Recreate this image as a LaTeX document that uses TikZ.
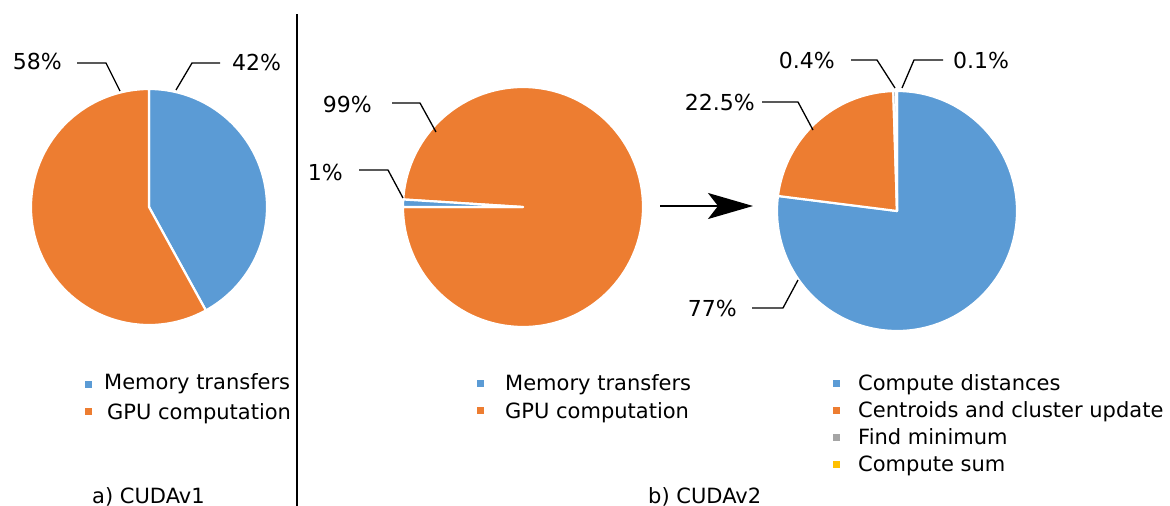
\documentclass[tikz,border=0pt]{standalone}
\usepackage{fontspec}
\setmainfont{DejaVu Sans}
\usetikzlibrary{arrows.meta}

\definecolor{cblue}{HTML}{5B9BD5}
\definecolor{corange}{HTML}{ED7D31}
\definecolor{cgray}{HTML}{A5A5A5}
\definecolor{cyellow}{HTML}{FFC000}

\tikzset{
  slice/.style={draw=white, line width=2.2pt, line join=round},
  pct/.style={font=\fontsize{22}{26}\selectfont, inner sep=0pt},
  leader/.style={draw=black, line width=1.3pt},
  legtext/.style={font=\fontsize{21}{25}\selectfont, inner sep=0pt, anchor=base west},
  legmark/.style={minimum size=7pt, inner sep=0pt, outer sep=0pt},
  divider/.style={draw=black, line width=2pt},
  flow/.style={draw=black, line width=2pt, -{Stealth[length=45pt, width=26pt, inset=10pt]}},
}

% one pie slice: colour, start angle, end angle, radius
\newcommand\pieslice[4]{%
  \fill[#1, slice] (0,0) -- (#2:#4) arc[start angle=#2, end angle=#3, radius=#4] -- cycle;}

\begin{document}
\begin{tikzpicture}[x=1pt, y=-1pt]
\fill[white] (0,0) rectangle (1170,506);
\useasboundingbox (0,0) rectangle (1170,506);

% ---------- a) CUDAv1 ----------
\begin{scope}[shift={(149,207)}, yscale=-1]
  \pieslice{cblue}{90}{-61.2}{118}
  \pieslice{corange}{-61.2}{-270}{118}
\end{scope}

\node[pct, anchor=east] (p58) at (62,61) {58\%};
\coordinate (p58s) at (77,63);
\coordinate (p58k) at (106,63);
\coordinate (p58e) at (120,91);
\draw[leader] (p58s) -- (p58k) -- (p58e);

\node[pct, anchor=west] (p42) at (232,62) {42\%};
\coordinate (p42s) at (220,63);
\coordinate (p42k) at (192,63);
\coordinate (p42e) at (176,90);
\draw[leader] (p42s) -- (p42k) -- (p42e);

\node[legmark, fill=cblue] (ma1) at (88,384) {};
\node[legtext] (ta1) at (104,389) {Memory transfers};
\node[legmark, fill=corange] (ma2) at (88,411) {};
\node[legtext] (ta2) at (107,419) {GPU computation};

\node[legtext] (capa) at (92,503) {a) CUDAv1};

% divider between the two parts
\coordinate (divtop) at (297,14);
\coordinate (divbot) at (297,506);
\draw[divider] (divtop) -- (divbot);

% ---------- b) CUDAv2, overall split ----------
\begin{scope}[shift={(523,207)}, yscale=-1]
  \pieslice{corange}{176.4}{-180}{120}
  \pieslice{cblue}{180}{176.4}{120}
\end{scope}

\node[pct, anchor=east] (p99) at (372,104) {99\%};
\coordinate (p99s) at (392,103);
\coordinate (p99k) at (420,103);
\coordinate (p99e) at (436,132);
\draw[leader] (p99s) -- (p99k) -- (p99e);

\node[pct, anchor=east] (p1) at (343,172) {1\%};
\coordinate (p1s) at (359,170);
\coordinate (p1k) at (388,170);
\coordinate (p1e) at (403,198);
\draw[leader] (p1s) -- (p1k) -- (p1e);

% arrow to the breakdown of the GPU computation
\coordinate (arrs) at (660,206);
\coordinate (arre) at (753,206);
\draw[flow] (arrs) -- (arre);

% ---------- b) CUDAv2, GPU computation breakdown ----------
\begin{scope}[shift={(897,211)}, yscale=-1]
  \pieslice{cblue}{90}{-187.2}{120}
  \pieslice{corange}{172.8}{91.8}{120}
  \pieslice{cgray}{91.8}{90.36}{120}
  \pieslice{cyellow}{90.36}{90}{120}
\end{scope}

\node[pct, anchor=east] (p04) at (835,60) {0.4\%};
\coordinate (p04s) at (851,60);
\coordinate (p04k) at (877,60);
\coordinate (p04e) at (895,88);
\draw[leader] (p04s) -- (p04k) -- (p04e);

\node[pct, anchor=west] (p01) at (953,60) {0.1\%};
\coordinate (p01s) at (943,60);
\coordinate (p01k) at (914,60);
\coordinate (p01e) at (902,88);
\draw[leader] (p01s) -- (p01k) -- (p01e);

\node[pct, anchor=east] (p225) at (755,102) {22.5\%};
\coordinate (p225s) at (762,102);
\coordinate (p225k) at (798,102);
\coordinate (p225e) at (813,130);
\draw[leader] (p225s) -- (p225k) -- (p225e);

\node[pct, anchor=east] (p77) at (737,308) {77\%};
\coordinate (p77s) at (752,308);
\coordinate (p77k) at (783,308);
\coordinate (p77e) at (798,280);
\draw[leader] (p77s) -- (p77k) -- (p77e);

% legends
\node[legmark, fill=cblue] (mb1) at (480,383) {};
\node[legtext] (tb1) at (505,390) {Memory transfers};
\node[legmark, fill=corange] (mb2) at (480,410) {};
\node[legtext] (tb2) at (505,418) {GPU computation};

\node[legmark, fill=cblue] (mc1) at (836,383) {};
\node[legtext] (tc1) at (858,390) {Compute distances};
\node[legmark, fill=corange] (mc2) at (836,410) {};
\node[legtext] (tc2) at (858,417) {Centroids and cluster update};
\node[legmark, fill=cgray] (mc3) at (836,437) {};
\node[legtext] (tc3) at (858,444) {Find minimum};
\node[legmark, fill=cyellow] (mc4) at (836,464) {};
\node[legtext] (tc4) at (858,471) {Compute sum};

\node[legtext] (capb) at (648,503) {b) CUDAv2};
\end{tikzpicture}
\end{document}
